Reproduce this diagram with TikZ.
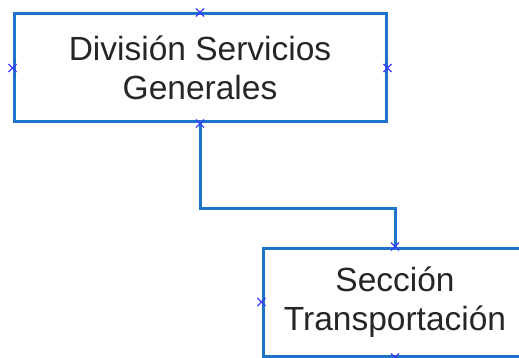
\documentclass[tikz,border=0pt]{standalone}
\usepackage{fontspec}
\setmainfont{Liberation Sans}
\usepackage{xcolor}
\usetikzlibrary{shapes, positioning}
\definecolor{azul}{RGB}{28,117,200}
\definecolor{marcaazul}{RGB}{60,60,255}

\begin{document}
\begin{tikzpicture}[x=1pt, y=1pt,
        caja/.style={draw=azul, line width=3pt, align=center, text=black!85,
            font=\fontsize{33.5}{39.5}\selectfont, inner sep=0pt},
        enlace/.style={draw=azul, line width=3pt},
        marca/.style={cross out, draw=marcaazul, line width=1.1pt, minimum size=7pt, inner sep=0pt}]
        \useasboundingbox (0, 0) rectangle (519, -358);

        \node[caja, minimum width=372pt, minimum height=108pt] (div) at (200, -68) {Divisi\'on Servicios\\Generales};
        \node[caja, minimum width=264pt, minimum height=108pt] (sec) at (395, -302) {Secci\'on\\Transportaci\'on};

        \coordinate (codo) at (200, -208);
        \draw[enlace] (div.south) -- (codo) -| (sec.north);

        \foreach \n/\a in {div/north, div/south, div/east, div/west, sec/north, sec/west, sec/south}
            \node[marca] at (\n.\a) {};
    \end{tikzpicture}
\end{document}
